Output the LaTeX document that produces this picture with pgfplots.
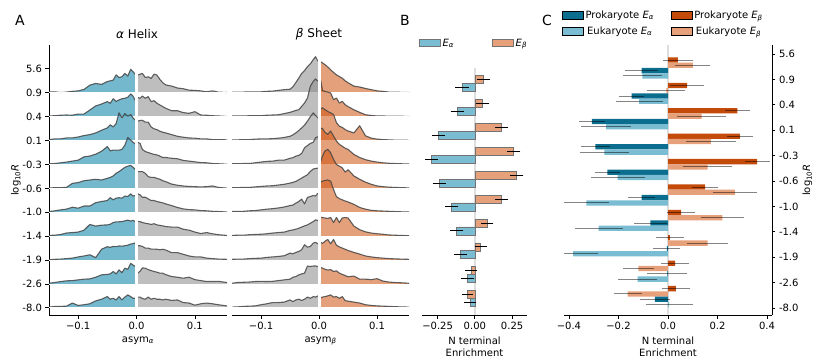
\documentclass[border=0pt]{standalone}
\usepackage{fontspec}
\setmainfont{DejaVu Sans}
\usepackage{pgfplots}
\usepackage{pgfplotstable}
\pgfplotsset{compat=1.18}

\definecolor{fblue}{RGB}{2,126,166}
\definecolor{fgray}{RGB}{137,137,137}
\definecolor{forange}{RGB}{206,82,13}
\definecolor{pblue}{RGB}{12,110,142}
\definecolor{eblue}{RGB}{122,188,210}
\definecolor{porange}{RGB}{196,74,10}
\definecolor{eorange}{RGB}{230,160,122}
\definecolor{zline}{RGB}{222,222,222}
\definecolor{rline}{RGB}{70,70,70}

\newcommand{\Ea}{\textit{E}\textsubscript{\textit{α}}}
\newcommand{\Eb}{\textit{E}\textsubscript{\textit{β}}}

% ridge heights (row units above each baseline), left and right halves
\pgfplotstableread{
x r1 r2 r3 r4 r5 r6 r7 r8 r9 r10
-0.150 0.04 0.03 0.04 0.03 0.01 0.03 0.03 0.01 0.03 0.03
-0.140 0.04 0.04 0.07 0.04 0.03 0.06 0.04 0.03 0.06 0.06
-0.130 0.01 0.06 0.07 0.07 0.03 0.10 0.07 0.04 0.10 0.06
-0.120 0.03 0.07 0.11 0.10 0.04 0.13 0.13 0.06 0.13 0.07
-0.110 0.06 0.06 0.11 0.14 0.21 0.21 0.15 0.08 0.14 0.20
-0.100 0.08 0.11 0.15 0.18 0.24 0.17 0.17 0.13 0.17 0.10
-0.090 0.14 0.11 0.21 0.32 0.32 0.26 0.25 0.17 0.20 0.13
-0.080 0.32 0.28 0.25 0.35 0.35 0.26 0.49 0.22 0.21 0.17
-0.070 0.39 0.45 0.32 0.43 0.38 0.40 0.42 0.10 0.28 0.29
-0.060 0.35 0.53 0.43 0.55 0.35 0.45 0.46 0.45 0.38 0.36
-0.050 0.47 0.63 0.53 0.75 0.42 0.49 0.47 0.56 0.40 0.47
-0.045 0.50 0.56 0.66 0.57 0.46 0.61 0.50 0.53 0.42 0.36
-0.040 0.53 0.75 0.57 0.60 0.52 0.52 0.57 0.57 0.52 0.40
-0.035 0.75 0.64 0.71 0.60 0.63 0.59 0.60 0.56 0.42 0.33
-0.030 0.64 0.70 1.16 0.60 0.70 0.61 0.60 0.59 0.59 0.47
-0.025 0.67 0.75 0.95 0.63 0.79 0.59 0.61 0.58 0.47 0.33
-0.020 0.81 0.77 1.13 0.81 0.88 0.68 0.64 0.60 0.66 0.45
-0.015 0.70 0.81 1.02 1.13 0.93 0.66 0.67 0.62 0.61 0.54
-0.010 0.98 0.95 1.09 1.02 0.96 0.77 0.63 0.67 0.86 0.47
-0.006 0.88 0.86 0.95 0.93 0.88 0.68 0.66 0.69 0.79 0.40
-0.002 0.77 0.67 0.85 0.85 0.79 0.70 0.61 0.72 0.73 0.40
}\alphaL

\pgfplotstableread{
x r1 r2 r3 r4 r5 r6 r7 r8 r9 r10
0.002 0.74 0.81 0.81 0.93 0.70 0.77 0.61 0.60 0.45 0.45
0.006 0.78 0.77 0.84 0.88 0.70 0.73 0.61 0.60 0.53 0.45
0.010 0.81 0.86 0.85 0.63 0.70 0.63 0.57 0.57 0.67 0.39
0.015 0.64 0.77 0.77 0.54 0.63 0.63 0.54 0.50 0.66 0.36
0.020 0.67 0.84 0.77 0.50 0.49 0.56 0.52 0.50 0.60 0.45
0.025 0.60 0.63 0.57 0.46 0.46 0.49 0.49 0.46 0.56 0.36
0.030 0.78 0.67 0.49 0.42 0.46 0.49 0.52 0.46 0.52 0.40
0.035 0.74 0.56 0.46 0.40 0.42 0.45 0.47 0.45 0.49 0.36
0.040 0.56 0.49 0.39 0.35 0.38 0.42 0.45 0.43 0.45 0.36
0.045 0.42 0.42 0.35 0.29 0.32 0.39 0.43 0.45 0.45 0.33
0.050 0.33 0.35 0.32 0.29 0.28 0.35 0.40 0.42 0.39 0.36
0.060 0.28 0.25 0.25 0.26 0.18 0.28 0.38 0.31 0.31 0.31
0.070 0.20 0.25 0.18 0.24 0.13 0.20 0.38 0.31 0.28 0.33
0.080 0.17 0.17 0.14 0.17 0.10 0.14 0.29 0.24 0.24 0.22
0.090 0.11 0.14 0.11 0.14 0.08 0.11 0.25 0.17 0.28 0.20
0.100 0.10 0.21 0.10 0.11 0.07 0.10 0.17 0.13 0.18 0.11
0.110 0.08 0.07 0.07 0.08 0.06 0.07 0.11 0.13 0.14 0.17
0.120 0.04 0.06 0.07 0.07 0.07 0.06 0.15 0.08 0.10 0.20
0.130 0.08 0.04 0.04 0.04 0.10 0.04 0.10 0.06 0.10 0.17
0.140 0.03 0.03 0.04 0.03 0.04 0.03 0.06 0.04 0.11 0.13
0.155 0.01 0.01 0.03 0.01 0.01 0.01 0.03 0.03 0.06 0.08
}\alphaR

\pgfplotstableread{
x r1 r2 r3 r4 r5 r6 r7 r8 r9 r10
-0.150 0.03 0.03 0.03 0.03 0.03 0.03 0.03 0.03 0.03 0.03
-0.140 0.03 0.03 0.03 0.03 0.03 0.03 0.04 0.04 0.06 0.04
-0.130 0.03 0.03 0.04 0.04 0.04 0.04 0.04 0.04 0.07 0.06
-0.120 0.04 0.04 0.04 0.04 0.04 0.06 0.06 0.06 0.08 0.07
-0.110 0.04 0.04 0.06 0.07 0.06 0.07 0.07 0.07 0.10 0.08
-0.100 0.04 0.04 0.07 0.10 0.08 0.10 0.08 0.08 0.11 0.13
-0.090 0.06 0.06 0.07 0.13 0.10 0.13 0.10 0.11 0.10 0.17
-0.080 0.07 0.07 0.08 0.14 0.11 0.15 0.13 0.13 0.11 0.22
-0.070 0.10 0.08 0.10 0.18 0.14 0.18 0.15 0.15 0.14 0.22
-0.060 0.13 0.13 0.13 0.18 0.17 0.22 0.17 0.18 0.17 0.24
-0.050 0.15 0.18 0.18 0.26 0.22 0.28 0.24 0.29 0.20 0.33
-0.045 0.25 0.22 0.24 0.28 0.25 0.30 0.26 0.26 0.28 0.26
-0.040 0.43 0.26 0.32 0.35 0.29 0.38 0.29 0.32 0.31 0.33
-0.035 0.61 0.29 0.42 0.38 0.36 0.45 0.33 0.36 0.38 0.36
-0.030 0.81 0.43 0.53 0.46 0.43 0.55 0.38 0.43 0.42 0.31
-0.025 0.93 0.57 0.65 0.70 0.50 0.35 0.43 0.64 0.45 0.36
-0.020 1.09 0.78 0.81 0.79 0.57 0.62 0.47 0.54 0.75 0.45
-0.015 1.21 1.27 1.00 0.88 0.71 0.66 0.54 0.57 0.73 0.40
-0.010 1.39 1.48 1.16 0.93 0.81 0.70 0.61 0.71 0.75 0.47
-0.006 1.51 1.58 1.05 1.12 0.83 0.68 0.68 0.74 0.75 0.45
-0.002 1.32 1.48 0.95 1.16 0.85 0.80 0.66 0.68 0.73 0.50
}\betaL

\pgfplotstableread{
x r1 r2 r3 r4 r5 r6 r7 r8 r9 r10
0.002 1.31 1.62 1.30 1.53 1.07 1.25 0.78 0.74 0.70 0.40
0.006 1.25 1.10 1.37 1.50 1.35 1.30 0.78 0.70 0.66 0.45
0.010 1.18 1.06 1.30 1.35 1.56 1.33 0.76 0.78 0.62 0.47
0.015 1.08 1.03 1.22 1.26 1.63 1.35 0.74 0.86 0.58 0.50
0.020 0.96 0.99 1.16 1.40 1.49 1.30 0.78 0.68 0.60 0.54
0.025 0.85 0.71 1.09 1.19 1.21 0.95 0.57 0.86 0.52 0.45
0.030 0.75 0.78 0.75 0.98 1.00 0.65 0.78 0.62 0.55 0.47
0.035 0.68 0.57 0.60 0.84 0.93 0.57 0.57 0.55 0.45 0.40
0.040 0.61 0.64 0.55 0.76 0.86 0.52 0.76 0.50 0.40 0.47
0.045 0.50 0.50 0.46 0.68 0.68 0.47 0.78 0.45 0.35 0.30
0.050 0.42 0.42 0.40 0.63 0.78 0.43 0.76 0.40 0.30 0.28
0.060 0.28 0.29 0.32 0.42 0.52 0.33 0.42 0.32 0.33 0.24
0.070 0.24 0.18 0.62 0.29 0.38 0.20 0.27 0.25 0.20 0.20
0.080 0.18 0.08 0.20 0.20 0.26 0.13 0.18 0.17 0.20 0.13
0.090 0.13 0.05 0.10 0.14 0.17 0.08 0.13 0.13 0.18 0.10
0.100 0.08 0.03 0.06 0.10 0.10 0.06 0.10 0.10 0.22 0.08
0.110 0.06 0.03 0.04 0.07 0.07 0.05 0.08 0.08 0.12 0.07
0.120 0.03 0.02 0.03 0.05 0.05 0.04 0.05 0.06 0.08 0.06
0.130 0.03 0.02 0.02 0.04 0.04 0.03 0.04 0.05 0.06 0.05
0.140 0.02 0.02 0.02 0.03 0.03 0.02 0.03 0.04 0.05 0.04
0.155 0.02 0.01 0.01 0.02 0.02 0.01 0.02 0.03 0.03 0.03
}\betaR

\pgfplotsset{
  base/.style={
    scale only axis, height=270pt, ymin=-10.3, ymax=1.0,
    axis line style={line width=0.8pt},
    tick style={line width=0.8pt, black},
    tick align=outside, major tick length=3.5pt,
    /pgf/number format/assume math mode=true,
    tick label style={font=\fontsize{10}{12}\selectfont},
    label style={font=\fontsize{10}{12}\selectfont},
  },
  ridgeline/.style={rline, line width=1.1pt, opacity=0.85, line join=round},
  hbar/.style={xbar, bar shift=0pt, forget plot,
    error bars/x dir=both, error bars/x explicit, error bars/error mark=none},
}

% #1 left table, #2 left fill, #3 right table, #4 right fill
\newcommand{\ridges}[4]{%
  \pgfplotsinvokeforeach{1,...,10}{
    \addplot[draw=none, fill=#2, fill opacity=0.55] table[x=x, y expr=\thisrow{r##1}-##1] {#1}
      -- (axis cs:-0.002,-##1) -- (axis cs:-0.15,-##1) -- cycle;
    \addplot[ridgeline] table[x=x, y expr=\thisrow{r##1}-##1] {#1};
    \addplot[draw=none, fill=#4, fill opacity=0.55] table[x=x, y expr=\thisrow{r##1}-##1] {#3}
      -- (axis cs:0.155,-##1) -- (axis cs:0.002,-##1) -- cycle;
    \addplot[ridgeline] table[x=x, y expr=\thisrow{r##1}-##1] {#3};
    \draw[white, line width=0.8pt] (axis cs:-0.15,-##1) -- (axis cs:0.155,-##1);
  }
  \draw[white, line width=3pt] (axis cs:0,-10.05) -- (axis cs:0,1);
}

\begin{document}
\begin{tikzpicture}
\useasboundingbox (0,0) rectangle (822pt,364pt);

% ---- A: alpha helix
\begin{axis}[base, at={(49pt,49pt)}, anchor=south west, width=178pt,
  xmin=-0.15, xmax=0.155,
  axis x line*=bottom, axis y line*=left,
  xtick={-0.1,0,0.1}, xticklabels={−0.1,0.0,0.1},
  ytick={0,-1,-2,-3,-4,-5,-6,-7,-8,-9,-10},
  yticklabels={5.6,0.9,0.4,0.1,-0.3,-0.6,-1.0,-1.4,-1.9,-2.6,-8.0},
  xlabel={asym\textsubscript{\textit{α}}},
  ylabel={log\textsubscript{10}\textit{R}}, ylabel shift=-5pt]
\ridges{\alphaL}{fblue}{\alphaR}{fgray}
\end{axis}

% ---- A: beta sheet
\begin{axis}[base, at={(232pt,49pt)}, anchor=south west, width=177pt,
  xmin=-0.15, xmax=0.155,
  axis x line*=bottom, axis y line=none,
  xtick={-0.1,0,0.1}, xticklabels={−0.1,0.0,0.1},
  xlabel={asym\textsubscript{\textit{β}}}]
\ridges{\betaL}{fgray}{\betaR}{forange}
\end{axis}

% ---- B
\begin{axis}[base, at={(422pt,49pt)}, anchor=south west, width=105pt,
  xmin=-0.355, xmax=0.35,
  axis x line*=bottom, axis y line=none,
  xtick={-0.25,0,0.25}, xticklabels={−0.25,0.00,0.25},
  xlabel={N terminal\\Enrichment}, xlabel style={align=center},
  legend image code/.code={\draw[#1, line width=0.6pt] (0pt,-3pt) rectangle (21pt,3.5pt);},
  legend columns=2,
  legend style={at={(axis description cs:-0.03,1.007)}, anchor=west, draw=none, fill=none,
    inner sep=0pt, font=\fontsize{10}{12}\selectfont,
    /tikz/every even column/.append style={column sep=36pt}},
]
\draw[zline, line width=1.5pt] (axis cs:0,-10.3) -- (axis cs:0,0.05);
\addplot[hbar, bar width=8pt, fill=eorange, draw=black!55, line width=0.6pt,
  error bars/error bar style={line width=1pt, black}] coordinates {
  (0.057,-0.45) +- (0.045,0) (0.052,-1.45) +- (0.045,0) (0.180,-2.45) +- (0.045,0)
  (0.260,-3.45) +- (0.045,0) (0.280,-4.45) +- (0.045,0) (0.180,-5.45) +- (0.045,0)
  (0.084,-6.45) +- (0.040,0) (0.039,-7.45) +- (0.040,0) (-0.027,-8.45) +- (0.040,0)
  (-0.050,-9.45) +- (0.035,0)};
\addplot[hbar, bar width=8pt, fill=eblue, draw=black!55, line width=0.6pt,
  error bars/error bar style={line width=1pt, black}] coordinates {
  (-0.086,-0.78) +- (0.045,0) (-0.118,-1.78) +- (0.045,0) (-0.243,-2.78) +- (0.045,0)
  (-0.290,-3.78) +- (0.043,0) (-0.239,-4.78) +- (0.045,0) (-0.155,-5.78) +- (0.045,0)
  (-0.123,-6.78) +- (0.045,0) (-0.098,-7.78) +- (0.045,0) (-0.052,-8.78) +- (0.044,0)
  (-0.032,-9.78) +- (0.042,0)};
\addlegendimage{fill=eblue, draw=black!55}
\addlegendentry{\Ea}
\addlegendimage{fill=eorange, draw=black!55}
\addlegendentry{\Eb}
\end{axis}

% ---- C
\begin{axis}[base, at={(564pt,49pt)}, anchor=south west, width=208pt,
  xmin=-0.42, xmax=0.42, ymin=-10.276, ymax=0.354,
  axis x line*=bottom, axis y line*=right,
  xtick={-0.4,-0.2,0,0.2,0.4}, xticklabels={−0.4,−0.2,0.0,0.2,0.4},
  ytick={0,-1,-2,-3,-4,-5,-6,-7,-8,-9,-10},
  yticklabels={5.6,0.9,0.4,0.1,-0.3,-0.6,-1.0,-1.4,-1.9,-2.6,-8.0},
  ylabel={log\textsubscript{10}\textit{R}}, ylabel shift=-3pt,
  xlabel={N terminal\\Enrichment}, xlabel style={align=center},
  legend image code/.code={\fill[#1] (0pt,-3.5pt) rectangle (21pt,4pt);},
  legend columns=2,
  legend style={at={(axis description cs:-0.01,1.135)}, anchor=north west, draw=none, fill=none,
    inner sep=0pt, font=\fontsize{10}{12}\selectfont, row sep=3pt,
    /tikz/every even column/.append style={column sep=15pt}},
]
\draw[zline, line width=1.5pt] (axis cs:0,-10.276) -- (axis cs:0,0.354);
\addplot[hbar, bar width=5.3pt, fill=porange, draw=none,
  error bars/error bar style={line width=1pt, black, opacity=0.45}] coordinates {
  (0.040,-0.237) +- (0.060,0) (0.077,-1.237) +- (0.067,0) (0.280,-2.237) +- (0.050,0)
  (0.290,-3.237) +- (0.053,0) (0.360,-4.237) +- (0.050,0) (0.150,-5.237) +- (0.053,0)
  (0.053,-6.237) +- (0.058,0) (0.008,-7.237) +- (0.055,0) (0.029,-8.237) +- (0.057,0)
  (0.032,-9.237) +- (0.057,0)};
\addplot[hbar, bar width=5.3pt, fill=eorange, draw=none,
  error bars/error bar style={line width=1pt, black, opacity=0.45}] coordinates {
  (0.100,-0.446) +- (0.070,0) (-0.007,-1.446) +- (0.077,0) (0.136,-2.446) +- (0.100,0)
  (0.173,-3.446) +- (0.100,0) (0.160,-4.446) +- (0.100,0) (0.270,-5.446) +- (0.090,0)
  (0.220,-6.446) +- (0.085,0) (0.160,-7.446) +- (0.083,0) (-0.120,-8.446) +- (0.062,0)
  (-0.163,-9.446) +- (0.057,0)};
\addplot[hbar, bar width=5.3pt, fill=pblue, draw=none,
  error bars/error bar style={line width=1pt, black, opacity=0.45}] coordinates {
  (-0.107,-0.654) +- (0.065,0) (-0.147,-1.654) +- (0.050,0) (-0.307,-2.654) +- (0.053,0)
  (-0.293,-3.654) +- (0.058,0) (-0.245,-4.654) +- (0.050,0) (-0.107,-5.654) +- (0.053,0)
  (-0.071,-6.654) +- (0.067,0) (-0.005,-7.654) +- (0.055,0) (-0.003,-8.654) +- (0.080,0)
  (-0.053,-9.654) +- (0.062,0)};
\addplot[hbar, bar width=5.3pt, fill=eblue, draw=none,
  error bars/error bar style={line width=1pt, black, opacity=0.45}] coordinates {
  (-0.103,-0.863) +- (0.080,0) (-0.117,-1.863) +- (0.095,0) (-0.250,-2.863) +- (0.100,0)
  (-0.257,-3.863) +- (0.100,0) (-0.203,-4.863) +- (0.110,0) (-0.330,-5.863) +- (0.090,0)
  (-0.280,-6.863) +- (0.097,0) (-0.383,-7.863) +- (0.100,0) (-0.123,-8.863) +- (0.079,0)
  (0.005,-9.863) +- (0.095,0)};
\addlegendimage{fill=pblue}
\addlegendentry{Prokaryote \Ea}
\addlegendimage{fill=porange}
\addlegendentry{Prokaryote \Eb}
\addlegendimage{fill=eblue}
\addlegendentry{Eukaryote \Ea}
\addlegendimage{fill=eorange}
\addlegendentry{Eukaryote \Eb}
\end{axis}

% panel letters and titles
\node[font=\fontsize{14}{16}\selectfont] at (20pt,344pt) {A};
\node[font=\fontsize{14}{16}\selectfont] at (405pt,344pt) {B};
\node[font=\fontsize{14}{16}\selectfont] at (547pt,344pt) {C};
\node[font=\fontsize{12}{14}\selectfont] at (137pt,330pt) {\textit{α} Helix};
\node[font=\fontsize{12}{14}\selectfont] at (319pt,330pt) {\textit{β} Sheet};
\end{tikzpicture}
\end{document}
